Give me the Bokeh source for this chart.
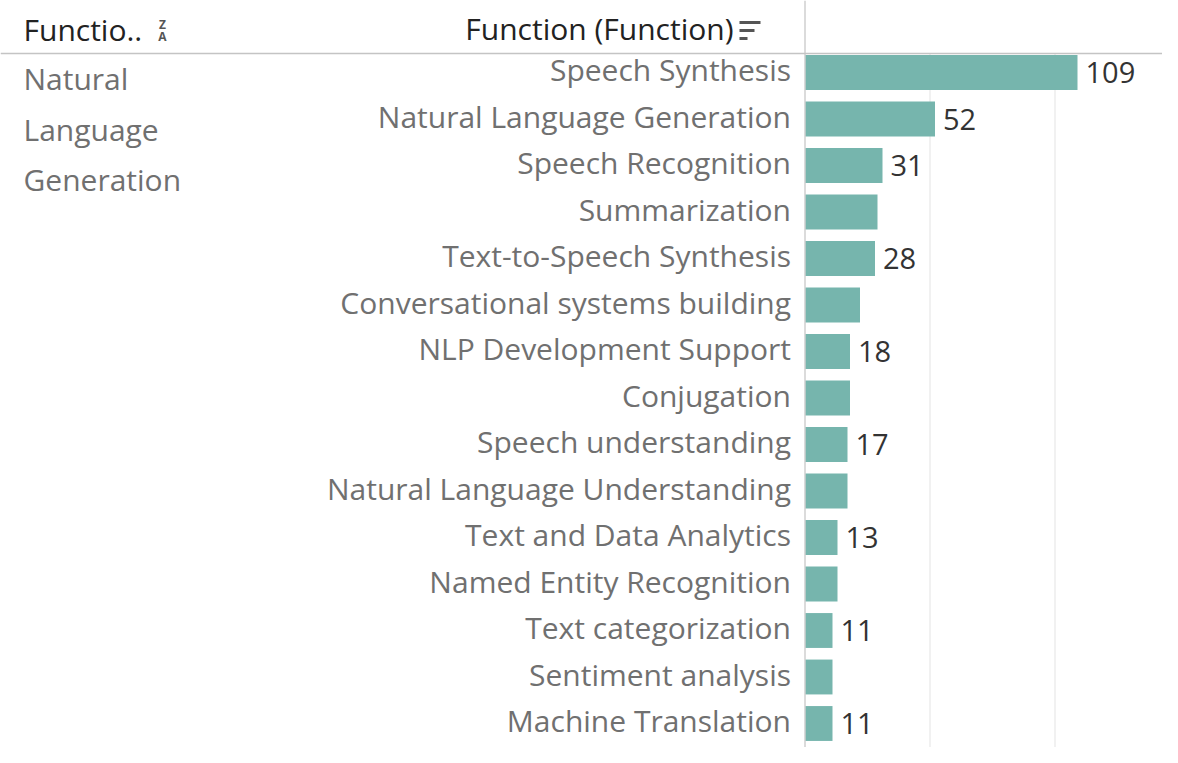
from bokeh.plotting import figure
from bokeh.models import Range1d, Span, ColumnDataSource
from bokeh.core.properties import value
from bokeh.embed import file_html
from bokeh.resources import INLINE

# ---------------- data ----------------
categories = [
    "Speech Synthesis",
    "Natural Language Generation",
    "Speech Recognition",
    "Summarization",
    "Text-to-Speech Synthesis",
    "Conversational systems building",
    "NLP Development Support",
    "Conjugation",
    "Speech understanding",
    "Natural Language Understanding",
    "Text and Data Analytics",
    "Named Entity Recognition",
    "Text categorization",
    "Sentiment analysis",
    "Machine Translation",
]
counts = [109, 52, 31, 29, 28, 22, 18, 18, 17, 17, 13, 13, 11, 11, 11]
show_label = [True, True, True, False, True, False, True, False, True, False, True, False, True, False, True]
group_words = ["Natural", "Language", "Generation"]
header_left = "Functio.."
header_mid = "Function (Function)"

# ---------------- layout helpers ----------------
W, H = 1162, 747
ZERO_PX = 804.5            # canvas x of value 0
PPU = 2.50                 # pixels per count unit
ROW_PX = 46.5              # pixels per row
ROW1_PX = 72               # canvas y of the first row centre
N = len(categories)
y_top = N + ROW1_PX / ROW_PX
y_bot = y_top - H / ROW_PX

def X(px):
    return (px - ZERO_PX) / PPU

def Y(py):
    return y_top - py / ROW_PX

FONT = value("Open Sans")
LABEL_GREY = "#707070"
DARK = "#333333"
BAR = "#76b5ad"

p = figure(width=W, height=H, output_backend="svg", toolbar_location=None,
           x_range=Range1d(-ZERO_PX / PPU, (W - ZERO_PX) / PPU),
           y_range=Range1d(y_bot, y_top),
           x_axis_location=None, y_axis_location=None,
           min_border=0, outline_line_color=None)
p.xgrid.visible = False
p.ygrid.visible = False

ys = [N - i for i in range(N)]
src = ColumnDataSource(dict(
    y=ys, cat=categories, cnt=counts,
    lab=[str(c) if s else "" for c, s in zip(counts, show_label)],
))

# gridlines (from header line down)
grid_vals = [50, 100]
p.segment(x0=grid_vals, x1=grid_vals, y0=[Y(53)] * 2, y1=[y_bot - 1] * 2,
          line_color="#e8e8e8", line_width=1.2)

# bars
p.hbar(y="y", left=0, right="cnt", height=0.75, source=src,
       fill_color=BAR, line_color=None)

# axis / header lines
p.add_layout(Span(location=X(804.5), dimension="height", line_color="#cfcfcf", line_width=1.5))
p.add_layout(Span(location=Y(53), dimension="width", line_color="#c4c4c4", line_width=1.5))

# category labels
p.text(x=0, y="y", text="cat", source=src, x_offset=-14, y_offset=-3,
       text_align="right", text_baseline="alphabetic",
       text_font=FONT, text_font_size="30px", text_color=LABEL_GREY)

# value labels
p.text(x="cnt", y="y", text="lab", source=src, x_offset=8, y_offset=0,
       text_align="left", text_baseline="alphabetic",
       text_font=FONT, text_font_size="29px", text_color=DARK)

# left column (group)
gy = [Y(78), Y(129), Y(179)]
p.text(x=[X(23)] * 3, y=gy, text=group_words, text_align="left",
       text_baseline="alphabetic", text_font=FONT, text_font_size="30px",
       text_color=LABEL_GREY)

# headers
p.text(x=[X(23)], y=[Y(29)], text=[header_left], text_align="left",
       text_baseline="alphabetic", text_font=FONT, text_font_size="30px",
       text_color="#222222")
p.text(x=[X(733)], y=[Y(28)], text=[header_mid], text_align="right",
       text_baseline="alphabetic", text_font=FONT, text_font_size="30px",
       text_color="#222222")

# sort icons
p.text(x=[X(162)] * 2, y=[Y(24), Y(36)], text=["Z", "A"], text_align="center",
       text_baseline="alphabetic", text_font=FONT, text_font_size="12px",
       text_font_style="bold", text_color="#555555")
p.segment(x0=[X(739)] * 3, x1=[X(760), X(754), X(747)],
          y0=[Y(22), Y(30), Y(38)], y1=[Y(22), Y(30), Y(38)],
          line_color="#555555", line_width=3)

open("out.html", "w").write(file_html(p, INLINE))
